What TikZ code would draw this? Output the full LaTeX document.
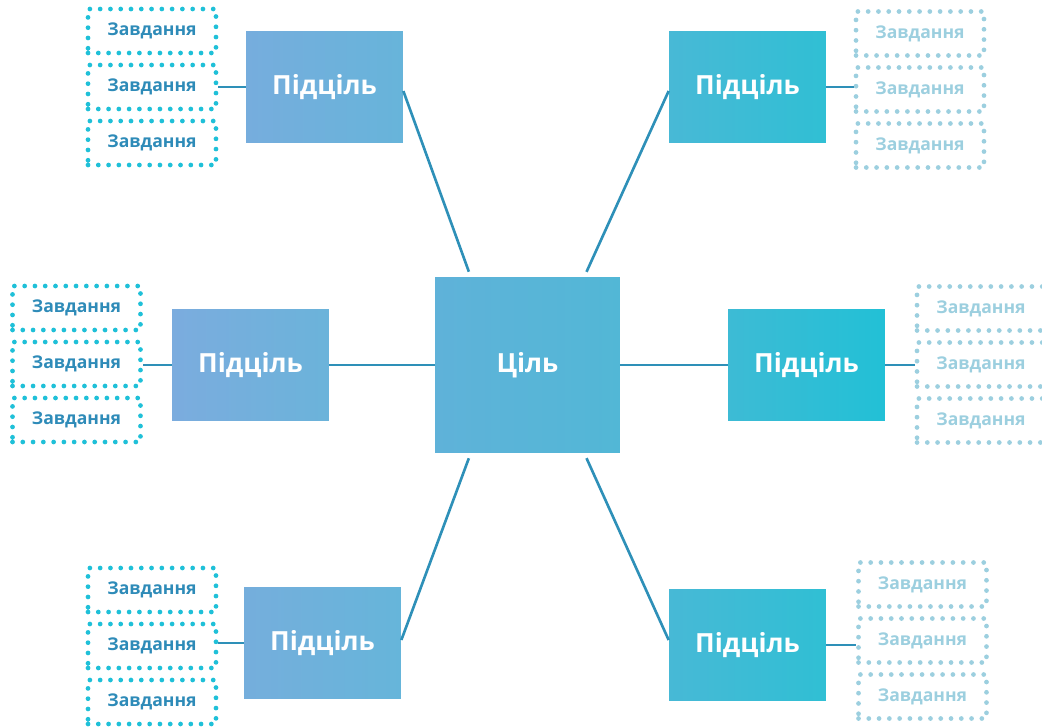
\documentclass[tikz,border=0pt]{standalone}
\usepackage{fontspec}
\setmainfont{Open Sans}
\usepackage{tikz}
\usetikzlibrary{calc}
\usepackage{xcolor}
\definecolor{linkblue}{HTML}{2E90B8}
\definecolor{taskcyan}{HTML}{1FC0D8}
\definecolor{tasktext}{HTML}{2E8BB8}
\definecolor{taskfade}{HTML}{9CCFDF}
\tikzstyle{goalbox} = [rectangle, minimum width=3.7cm, minimum height=3.52cm, text=white, font=\bfseries\fontsize{15}{18}\selectfont]
\tikzstyle{subgoal} = [rectangle, minimum width=3.14cm, minimum height=2.24cm, text=white, font=\bfseries\fontsize{15}{18}\selectfont]
\tikzstyle{task} = [rectangle, minimum width=2.56cm, minimum height=0.88cm, draw=taskcyan, line width=2.7pt, line cap=round, dash pattern=on 0pt off 5.85pt, text=tasktext, font=\bfseries\fontsize{10}{12}\selectfont]
\tikzstyle{taskfaded} = [task, draw=taskfade, text=taskfade]
\tikzstyle{link} = [line width=1.5pt, linkblue]

\begin{document}
\begin{tikzpicture}[x=0.02cm, y=-0.02cm]
    \useasboundingbox (0,0) rectangle (1042,727);
    % central goal
    \node (goal) [goalbox, left color={rgb,255:red,95;green,178;blue,217}, right color={rgb,255:red,82;green,183;blue,214}] at (527.5,365) {Ціль};
    % sub-goals
    \node (sTL) [subgoal, left color={rgb,255:red,118;green,173;blue,221}, right color={rgb,255:red,103;green,180;blue,218}] at (324.5,87) {Підціль};
    \node (sML) [subgoal, left color={rgb,255:red,123;green,172;blue,222}, right color={rgb,255:red,107;green,179;blue,218}] at (250.5,365) {Підціль};
    \node (sBL) [subgoal, left color={rgb,255:red,117;green,174;blue,220}, right color={rgb,255:red,102;green,181;blue,218}] at (322.5,643) {Підціль};
    \node (sTR) [subgoal, left color={rgb,255:red,72;green,185;blue,214}, right color={rgb,255:red,48;green,191;blue,212}] at (747.5,87) {Підціль};
    \node (sMR) [subgoal, left color={rgb,255:red,61;green,187;blue,213}, right color={rgb,255:red,34;green,192;blue,214}] at (806.5,365) {Підціль};
    \node (sBR) [subgoal, left color={rgb,255:red,71;green,185;blue,214}, right color={rgb,255:red,48;green,191;blue,212}] at (747.5,645) {Підціль};

    % tasks, three per sub-goal
    \foreach \g/\x/\y/\s in {tl/152/31/task, ml/76.5/308/task, bl/152/590/task, tr/920/33.5/taskfaded, mr/981/308.5/taskfaded, br/922.5/584.5/taskfaded} {
        \node (\g1) [\s] at (\x,\y) {Завдання};
        \node (\g2) [\s] at (\x,\y+56) {Завдання};
        \node (\g3) [\s] at (\x,\y+112) {Завдання};
    }

    % links goal -> sub-goals
    \draw [link, shorten <=3pt] ($(goal.north west)+(36,0)$) -- ($(sTL.east)+(0,4)$);
    \draw [link, shorten <=3pt] ($(goal.north east)+(-36,0)$) -- ($(sTR.west)+(0,4)$);
    \draw [link, shorten <=3pt] ($(goal.south west)+(36,0)$) -- ($(sBL.east)+(0,-3)$);
    \draw [link, shorten <=3pt] ($(goal.south east)+(-36,0)$) -- ($(sBR.west)+(0,-5)$);
    \draw [link] (goal.west) -- (sML.east);
    \draw [link] (goal.east) -- (sMR.west);

    % links sub-goals -> tasks
    \foreach \s/\t in {sTL/tl2, sML/ml2, sBL/bl2} {
        \draw [link] (\s.west) -- (\t.east |- \s.west);
    }
    \foreach \s/\t in {sTR/tr2, sMR/mr2, sBR/br2} {
        \draw [link] (\s.east) -- (\t.west |- \s.east);
    }
\end{tikzpicture}
\end{document}
